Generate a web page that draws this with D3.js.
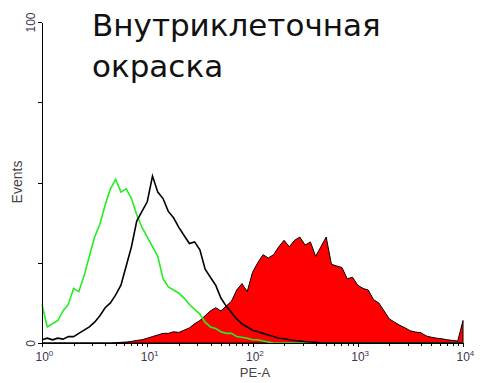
<!DOCTYPE html>
<html lang="en">
<head>
    <meta charset="UTF-8">
    <script src="https://d3js.org/d3.v7.min.js"></script>
    <title>histogram</title>
    <style>
        body { margin: 0; background: #fff; }
        .axis path, .axis line { stroke: #000; shape-rendering: crispEdges; }
        .axis text { font-family: "Liberation Sans", Arial, sans-serif; fill: #3d3550; }
    </style>
</head>
<body>
    <svg width="481" height="383"></svg>
    <script>
        // histogram bins, 20 per decade (log channel)
        var bins = d3.range(81).map(function(i) { return Math.pow(10, i / 20); });

        // counts per bin
        var redCounts = [0, 0, 0, 0, 0, 0, 0, 0, 0, 0,
                         0, 0, 0, 0, 0.1, 0.2, 0.3, 0.5, 0.8, 1,
                         1.5, 2, 2.5, 3, 3, 3.5, 3.3, 4, 4.7, 6,
                         7, 8.5, 10, 11, 10, 11.5, 13, 16.5, 18.5, 16,
                         22, 25, 27.5, 26.5, 27.5, 30, 32, 30, 32, 33,
                         30.5, 31.5, 27, 30, 33, 24.5, 24, 23.5, 20, 20.5,
                         18, 17, 16.5, 13.5, 12.5, 10, 7.5, 6.5, 5.5, 4.7,
                         3.8, 3.4, 3.2, 2.2, 1.8, 1.5, 1.3, 1, 0.8, 0.6,
                         7];
        var greenCounts = [12, 5, 6, 7, 10, 12, 17, 16, 21, 27,
                           33, 37, 43, 48, 51, 47, 48, 45, 40, 36,
                           33, 30, 27, 20, 17.5, 16.5, 15.5, 14, 12, 10.5,
                           9, 6.5, 5, 4.5, 3.5, 3, 3, 2, 1.8, 1.5,
                           1, 1, 0.6, 0.3, 0, 0, 0, 0, 0, 0,
                           0, 0, 0, 0, 0, 0, 0, 0, 0, 0,
                           0, 0, 0, 0, 0, 0, 0, 0, 0, 0,
                           0, 0, 0, 0, 0, 0, 0, 0, 0, 0,
                           0];
        var blackCounts = [1, 1.5, 1, 1.5, 1.2, 2, 2, 3, 4, 5,
                           6.5, 8.5, 11, 12.5, 15, 18, 24, 30, 38, 41,
                           44, 52, 47, 45, 41, 39, 36, 33.5, 31, 31.5,
                           29, 23, 20.5, 18, 14, 11.5, 9.5, 7.5, 6, 5,
                           4, 3.5, 3, 2.5, 2, 1.5, 1.3, 1, 0.8, 0.6,
                           0.4, 0.3, 0.2, 0, 0, 0, 0, 0, 0, 0,
                           0, 0, 0, 0, 0, 0, 0, 0, 0, 0,
                           0, 0, 0, 0, 0, 0, 0, 0, 0, 0,
                           0];

        var majorTicks = [1, 10, 100, 1000, 10000];
        var yTicks = [0, 25, 50, 75, 100];
        var titleLines = ["Внутриклеточная", "окраска"];

        var svg = d3.select("svg");

        var x = d3.scaleLog().domain([1, 10000]).range([42, 463]);
        var y = d3.scaleLinear().domain([0, 100]).range([343, 22]);

        var minorTicks = [];
        majorTicks.slice(0, 4).forEach(function(m) {
            for (var k = 2; k < 10; k++) minorTicks.push(m * k);
        });

        var area = d3.area()
                     .x(function(d) { return x(d[0]); })
                     .y0(y(0))
                     .y1(function(d) { return y(d[1]); });
        var line = d3.line()
                     .x(function(d) { return x(d[0]); })
                     .y(function(d) { return y(d[1]); });

        function pairs(counts) {
            return bins.map(function(b, i) { return [b, counts[i]]; });
        }

        // filled red histogram
        svg.append("path")
           .datum(pairs(redCounts))
           .attr("fill", "#ff0000")
           .attr("stroke", "#000")
           .attr("stroke-width", 1)
           .attr("stroke-linejoin", "round")
           .attr("d", area);

        svg.append("path")
           .datum(pairs(greenCounts))
           .attr("fill", "none")
           .attr("stroke", "#22ee22")
           .attr("stroke-width", 1.6)
           .attr("d", line);

        svg.append("path")
           .datum(pairs(blackCounts))
           .attr("fill", "none")
           .attr("stroke", "#000")
           .attr("stroke-width", 1.6)
           .attr("d", line);

        // axes
        var yAxis = svg.append("g")
                       .attr("class", "axis")
                       .attr("transform", "translate(42,0)")
                       .call(d3.axisLeft(y)
                               .tickValues(yTicks)
                               .tickSize(4)
                               .tickSizeOuter(0)
                               .tickFormat(function(d) { return (d === 0 || d === 100) ? d : ""; }));
        yAxis.selectAll("text")
             .attr("transform", "rotate(-90)")
             .attr("text-anchor", "middle")
             .attr("x", 0)
             .attr("y", -7)
             .attr("dy", 0)
             .style("font-size", "12px");

        svg.append("g")
           .attr("class", "axis")
           .attr("transform", "translate(0,343)")
           .call(d3.axisBottom(x)
                   .tickValues(minorTicks)
                   .tickSize(3)
                   .tickSizeOuter(0)
                   .tickFormat(""));

        var xAxis = svg.append("g")
                       .attr("class", "axis")
                       .attr("transform", "translate(0,343)")
                       .call(d3.axisBottom(x)
                               .tickValues(majorTicks)
                               .tickSize(4)
                               .tickSizeOuter(0)
                               .tickFormat(""));
        var lbl = xAxis.selectAll(".tick").append("text")
                       .attr("x", -7)
                       .attr("y", 18)
                       .attr("text-anchor", "start")
                       .style("font-size", "12px");
        lbl.append("tspan").text("10");
        lbl.append("tspan")
           .attr("dy", -5)
           .style("font-size", "8px")
           .text(function(d) { return Math.round(Math.log10(d)); });

        svg.append("text")
           .attr("x", 255)
           .attr("y", 377)
           .attr("text-anchor", "middle")
           .style("font-family", "Liberation Sans, Arial, sans-serif")
           .style("font-size", "13px")
           .style("fill", "#444")
           .text("PE-A");

        svg.append("text")
           .attr("transform", "translate(22,182) rotate(-90)")
           .attr("text-anchor", "middle")
           .style("font-family", "Liberation Sans, Arial, sans-serif")
           .style("font-size", "14px")
           .style("fill", "#444")
           .text("Events");

        svg.append("g")
           .selectAll("text")
           .data(titleLines)
           .enter().append("text")
           .attr("x", 92)
           .attr("y", function(d, i) { return 36 + i * 41; })
           .style("font-family", "DejaVu Sans, sans-serif")
           .style("font-size", "31px")
           .style("fill", "#111")
           .text(function(d) { return d; });
    </script>
</body>
</html>
